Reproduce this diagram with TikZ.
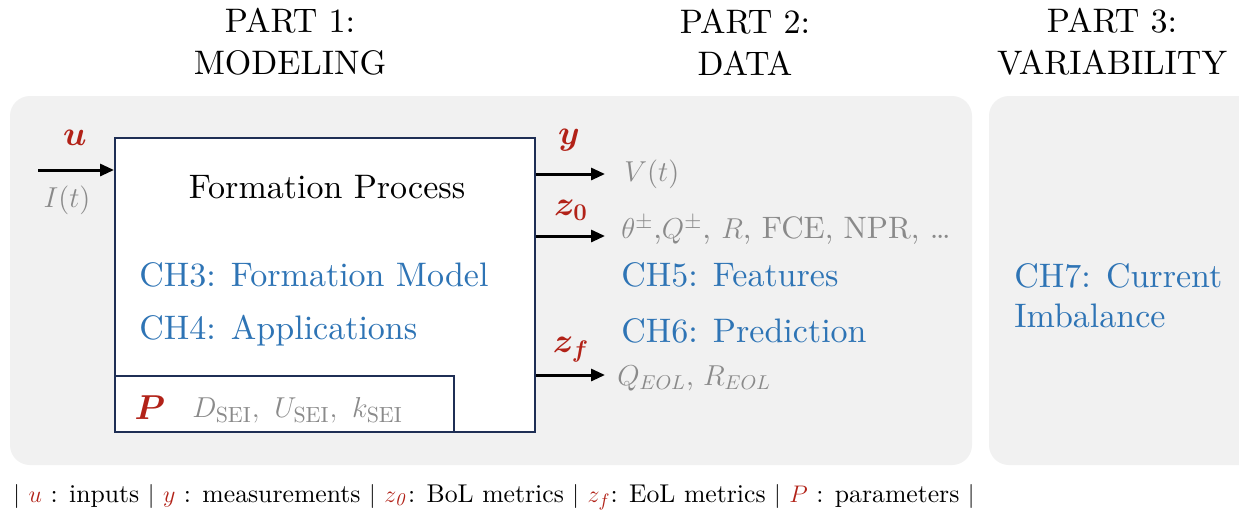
\documentclass[tikz,border=0pt]{standalone}
\usepackage{amsmath,bm}
\usepackage[no-math]{fontspec}
\setmainfont{lmroman10-regular.otf}[
  ItalicFont=lmroman10-italic.otf,
  BoldFont=lmroman10-bold.otf,
  BoldItalicFont=lmroman10-bolditalic.otf]
\usetikzlibrary{arrows.meta}
\definecolor{panel}{HTML}{F1F1F1}
\definecolor{frame}{HTML}{1F2F55}
\definecolor{chap}{HTML}{2E74B5}
\definecolor{sym}{HTML}{B22218}
\definecolor{note}{HTML}{8A8A8A}
\tikzset{
  panelbox/.style={fill=panel, rounded corners=10pt},
  procbox/.style={draw=frame, line width=1pt, fill=white, inner sep=0pt},
  arr/.style={line width=1.5pt, -{Triangle[length=7pt,width=6pt]}},
  header/.style={align=center, font=\fontsize{17}{21}\selectfont},
  chapter/.style={text=chap, anchor=west, inner sep=0pt, font=\fontsize{17}{20}\selectfont},
  symb/.style={text=sym, inner sep=0pt, font=\fontsize{17}{20}\selectfont},
  grey/.style={text=note, inner sep=0pt, font=\fontsize{15}{18}\selectfont},
}
\begin{document}
\begin{tikzpicture}[x=0.5pt,y=-0.5pt]
\useasboundingbox (0,0) rectangle (1239,511);
\fill[white] (0,0) rectangle (1239,511);
\begin{scope}
\clip (0,0) rectangle (1239,511);
% background panels
\fill[panelbox] (10,96) rectangle (972,465);
\fill[panelbox] (989,96) rectangle (1270,465);
\end{scope}

% part headings
\node[header] (h1) at (290,42) {PART 1:\\MODELING};
\node[header] (h2) at (745,42) {PART 2:\\DATA};
\node[header] (h3) at (1112,42) {PART 3:\\VARIABILITY};

% formation process block and parameter strip
\node[procbox, minimum width=210pt, minimum height=147pt] (proc) at (325,285) {};
\node[procbox, minimum width=169.5pt, minimum height=28pt] (param) at (284.5,404) {};

\node[inner sep=0pt, font=\fontsize{17}{20}\selectfont] (title) at (327,187) {Formation Process};
\node[chapter] (ch3) at (139,275) {CH3: Formation Model};
\node[chapter] (ch4) at (139,331) {CH4: Applications};
\node[symb] (plab) at (150,408) {$\bm{P}$};
\node[grey, anchor=west] (pvals) at (192,410) {$D_{\mathrm{SEI}},\ U_{\mathrm{SEI}},\ k_{\mathrm{SEI}}$};

% input
\coordinate (uin) at (38,170);
\draw[arr] (uin) -- (uin -| proc.west);
\node[symb] (ulab) at (75,138) {$\bm{u}$};
\node[grey] (ilab) at (67,200) {$I(t)$};

% outputs
\coordinate (yend) at (605,174);
\coordinate (z0end) at (605,236);
\coordinate (zfend) at (605,375);
\draw[arr] (yend -| proc.east) -- (yend);
\draw[arr] (z0end -| proc.east) -- (z0end);
\draw[arr] (zfend -| proc.east) -- (zfend);
\node[symb] (ylab) at (569,140) {$\bm{y}$};
\node[symb] (z0lab) at (571,210) {$\bm{z_0}$};
\node[symb] (zflab) at (571,350) {$\bm{z_f}$};

\node[grey, anchor=west] (vt) at (624,174) {$V(t)$};
\node[grey, anchor=west, font=\fontsize{15.5}{18}\selectfont] (feat) at (621,230)
  {$\theta^{\pm}$,$Q^{\pm}$, $R$, FCE, NPR, \dots};
\node[chapter] (ch5) at (621,275) {CH5: Features};
\node[chapter] (ch6) at (621,331) {CH6: Prediction};
\node[grey, anchor=west, font=\fontsize{14}{17}\selectfont] (eol) at (617,378)
  {$Q_{EOL}$, $R_{EOL}$};

% part 3
\node[chapter, align=left] (ch7) at (1014,296) {CH7: Current\\Imbalance};

% legend
\node[anchor=west, inner sep=0pt, font=\fontsize{12.85}{15}\selectfont] (legend) at (13,497)
  {$|$ \textcolor{sym}{$u$} : inputs $|$ \textcolor{sym}{$y$} : measurements $|$
   \textcolor{sym}{$z_{\mathit{0}}$}: BoL metrics $|$ \textcolor{sym}{$z_f$}: EoL metrics $|$
   \textcolor{sym}{$P$} : parameters $|$};
\end{tikzpicture}
\end{document}
